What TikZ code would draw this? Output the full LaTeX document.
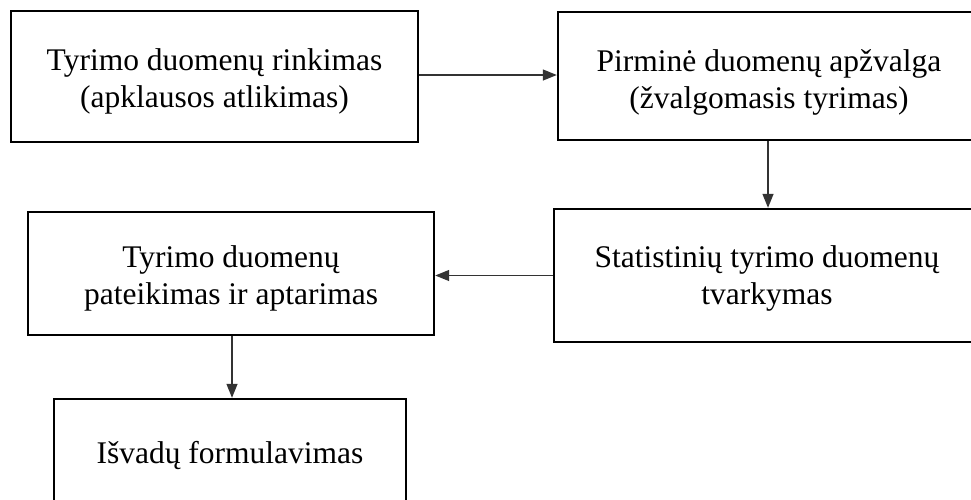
\documentclass[tikz,border=0pt]{standalone}
\usepackage{fontspec}
\setmainfont{Liberation Serif}
\usetikzlibrary{arrows.meta}
\begin{document}
\begin{tikzpicture}[x=1pt,y=-1pt,
  box/.style={draw=black, line width=2.4pt, inner sep=0pt},
  txt/.style={align=center, inner sep=0pt, text=black,
    font=\fontsize{31.5}{37}\selectfont},
  arr/.style={draw=black!80, line width=1.3pt, -{Triangle[length=14pt,width=11pt]}}]
\useasboundingbox (0,0) rectangle (971,499);
\clip (0,0) rectangle (971,499);
\node[box, minimum width=407pt, minimum height=131pt] (b1) at (214.5,76.5) {};
\node[box, minimum width=422pt, minimum height=128pt] (b2) at (769,76) {};
\node[box, minimum width=426pt, minimum height=133pt] (b3) at (767,275.5) {};
\node[box, minimum width=406pt, minimum height=123pt] (b4) at (231,273.5) {};
\node[box, minimum width=352pt, minimum height=112pt] (b5) at (230,455) {};
\node[txt] (t1) at ([yshift=-5pt]b1.center) {Tyrimo duomenų rinkimas\\(apklausos atlikimas)};
\node[txt] (t2) at ([yshift=-6pt]b2.center) {Pirminė duomenų apžvalga\\(žvalgomasis tyrimas)};
\node[txt] (t3) at ([yshift=-3pt]b3.center) {Statistinių tyrimo duomenų\\tvarkymas};
\node[txt] (t4) at ([yshift=-5pt]b4.center) {Tyrimo duomenų\\pateikimas ir aptarimas};
\node[txt] (t5) at ([yshift=0pt]b5.center) {Išvadų formulavimas};
\draw[arr] ([yshift=1.5pt]b1.east) -- ([yshift=1.5pt]b1.east -| b2.west);
\draw[arr] ([xshift=-1pt]b2.south) -- ([xshift=-1pt]b2.south |- b3.north);
\draw[arr] (b3.west) -- (b3.west -| b4.east);
\draw[arr] ([xshift=1pt]b4.south) -- ([xshift=1pt]b4.south |- b5.north);
\end{tikzpicture}
\end{document}
